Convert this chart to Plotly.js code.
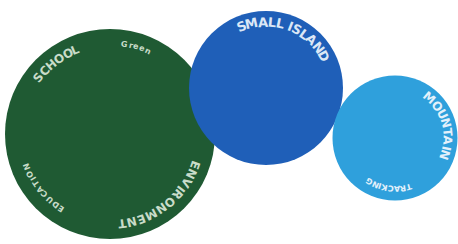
<!DOCTYPE html>
<html>
<head>
<meta charset="utf-8">
<script src="https://cdn.plot.ly/plotly-3.0.1.min.js"></script>
<style>html,body{margin:0;padding:0;background:#fff;}#chart{width:458px;height:244px;}</style>
</head>
<body>
<div id="chart"></div>
<script>
// ---- data ----
const bubbleNames = ['Environment', 'Small Island', 'Mountain'];
const bubbleX = [110, 266, 395];
const bubbleY = [134, 88, 138];
const bubbleSize = [210, 154, 125];
const bubbleColors = ['#1f5a33', '#1f5fb8', '#2fa0dc'];

const labelTexts = ['SCHOOL', 'Green', 'EDUCATION', 'ENVIRONMENT', 'SMALL ISLAND', 'MOUNTAIN', 'TRACKING'];
const labelBubble = [0, 0, 0, 0, 1, 2, 2];

// ---- label layout along arcs (degrees clockwise from top) ----
const labelStyle = [
  {a0: -54, a1: -20, inset: 14, size: 12, color: '#c9dcc9'},
  {a0: 7,   a1: 27,  inset: 14, size: 8,  color: '#c9dcc9'},
  {a0: 211, a1: 251, inset: 16, size: 8,  color: '#c9dcc9'},
  {a0: 107, a1: 175, inset: 15, size: 12, color: '#c9dcc9'},
  {a0: -26, a1: 66,  inset: 11, size: 13, color: '#dbe7f6'},
  {a0: 34,  a1: 114, inset: 10, size: 12, color: '#e3f1fb'},
  {a0: 161, a1: 215, inset: 12, size: 8,  color: '#e3f1fb'}
];

const traces = bubbleNames.map((n, i) => ({
  type: 'scatter', mode: 'markers', name: n,
  x: [bubbleX[i]], y: [bubbleY[i]],
  marker: {size: [bubbleSize[i]], sizemode: 'diameter', sizeref: 1, color: bubbleColors[i], line: {width: 0}, opacity: 1},
  hoverinfo: 'name'
}));

const ctx = document.createElement('canvas').getContext('2d');
const annotations = [];
labelTexts.forEach((txt, k) => {
  const b = labelBubble[k], st = labelStyle[k];
  const R = bubbleSize[b] / 2 - st.inset;
  ctx.font = 'bold ' + st.size + 'px "DejaVu Sans"';
  const chars = txt.split('');
  const w = chars.map(c => ctx.measureText(c).width);
  const total = w.reduce((s, v) => s + v, 0);
  let acc = 0;
  chars.forEach((c, j) => {
    const mid = acc + w[j] / 2;
    acc += w[j];
    if (c === ' ') return;
    const a = st.a0 + (st.a1 - st.a0) * mid / total;
    const rad = a * Math.PI / 180;
    annotations.push({
      x: bubbleX[b] + R * Math.sin(rad),
      y: bubbleY[b] - R * Math.cos(rad),
      xref: 'x', yref: 'y', text: c, showarrow: false,
      textangle: a, xanchor: 'center', yanchor: 'middle',
      font: {family: 'DejaVu Sans', size: st.size, color: st.color, weight: 'bold'}
    });
  });
});

const layout = {
  width: 458, height: 244,
  margin: {l: 0, r: 0, t: 0, b: 0},
  paper_bgcolor: '#ffffff', plot_bgcolor: '#ffffff',
  showlegend: false,
  xaxis: {range: [0, 458], visible: false, fixedrange: true},
  yaxis: {range: [244, 0], visible: false, fixedrange: true},
  annotations: annotations
};

Plotly.newPlot('chart', traces, layout, {displayModeBar: false, staticPlot: true});
</script>
</body>
</html>
